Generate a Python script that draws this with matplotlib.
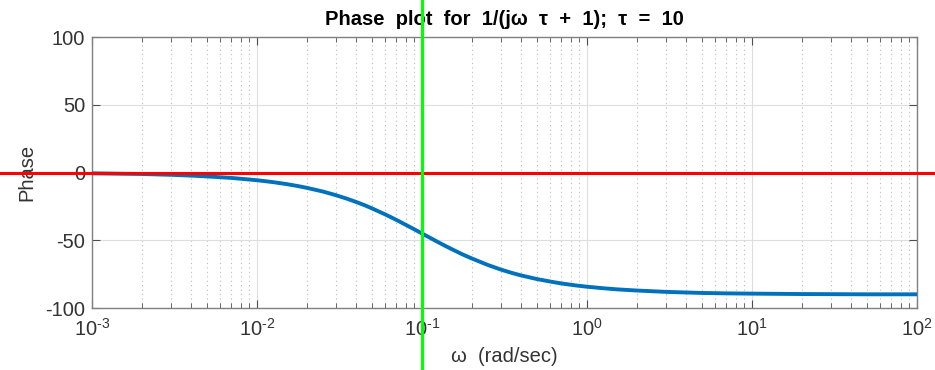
import numpy as np
import matplotlib
matplotlib.use("Agg")
import matplotlib.pyplot as plt
from matplotlib.ticker import LogLocator, NullFormatter, FuncFormatter

plt.rcParams['font.family'] = ['Liberation Sans', 'DejaVu Sans']
plt.rcParams['mathtext.fontset'] = 'custom'
plt.rcParams['mathtext.rm'] = 'Liberation Sans'
plt.rcParams['mathtext.it'] = 'Liberation Sans:italic'
plt.rcParams['axes.unicode_minus'] = False

# values
omega = [0.001, 0.0015, 0.002, 0.003, 0.004, 0.005, 0.007, 0.01, 0.0125, 0.015,
         0.0175, 0.02, 0.025, 0.03, 0.035, 0.04, 0.045, 0.05, 0.06, 0.07,
         0.08, 0.09, 0.1, 0.11, 0.12, 0.135, 0.15, 0.175, 0.2, 0.25,
         0.3, 0.35, 0.4, 0.5, 0.6, 0.7, 0.85, 1.0, 1.25, 1.5,
         2.0, 3.0, 5.0, 7.0, 10.0, 20.0, 50.0, 100.0]
phase = [-0.6, -0.9, -1.1, -1.7, -2.3, -2.9, -4.0, -5.7, -7.1, -8.5,
         -9.9, -11.3, -14.0, -16.7, -19.3, -21.8, -24.2, -26.6, -31.0, -35.0,
         -38.7, -42.0, -45.0, -47.7, -50.2, -53.5, -56.3, -60.3, -63.4, -68.2,
         -71.6, -74.1, -76.0, -78.7, -80.5, -81.9, -83.3, -84.3, -85.4, -86.2,
         -87.1, -88.1, -88.9, -89.2, -89.4, -89.7, -89.9, -89.9]
corner = 0.1
yticks = [-100, -50, 0, 50, 100]


def dec_label(v, pos):
    e = int(round(np.log10(v)))
    if e < 0:
        return r'$10^{\text{-}%d}$' % (-e)
    return r'$10^{%d}$' % e


fig = plt.figure(figsize=(9.35, 3.7), dpi=100)
ax = fig.add_axes([92/935, 62/370, 825/935, 271/370])

ax.semilogx(omega, phase, color='#0072BD', lw=2.8, zorder=3)
ax.set_xlim(1e-3, 1e2)
ax.set_ylim(-100, 100)
ax.set_yticks(yticks)
ax.xaxis.set_major_locator(LogLocator(base=10, numticks=10))
ax.xaxis.set_major_formatter(FuncFormatter(dec_label))
ax.xaxis.set_minor_locator(LogLocator(base=10, subs=np.arange(2, 10), numticks=20))
ax.xaxis.set_minor_formatter(NullFormatter())

ax.grid(True, which='major', color='#dedede', lw=0.8, ls='-')
ax.grid(True, which='minor', axis='x', color='#bdbdbd', lw=0.8, ls=(0, (1, 3)))
ax.set_axisbelow(True)

for s in ax.spines.values():
    s.set_color('#808080')
    s.set_linewidth(1.0)
ax.tick_params(which='both', direction='in', top=True, right=True,
               colors='#4d4d4d', labelcolor='#333333', labelsize=14.5)
ax.tick_params(which='major', length=6)
ax.tick_params(which='minor', length=3.5)
ax.tick_params(axis='x', pad=7)
ax.tick_params(axis='y', pad=5)

# red zero line and green corner line run past the axes
ax.axhline(0, xmin=-92/825, xmax=843/825, color='#ff0000', lw=2.2,
           clip_on=False, zorder=4)
ax.axvline(corner, ymin=-62/271, ymax=308/271, color='#00ff00', lw=2.2,
           clip_on=False, zorder=5)

ax.set_title('Phase  plot  for  1/(jω  τ  +  1);  τ  =  10',
             fontsize=14.5, fontweight='bold', pad=9)
ax.set_xlabel('ω  (rad/sec)', fontsize=14.5, color='#333333', labelpad=5)
ax.set_ylabel('Phase', fontsize=14.5, color='#333333', labelpad=6)

fig.savefig('out.png', dpi=100)
